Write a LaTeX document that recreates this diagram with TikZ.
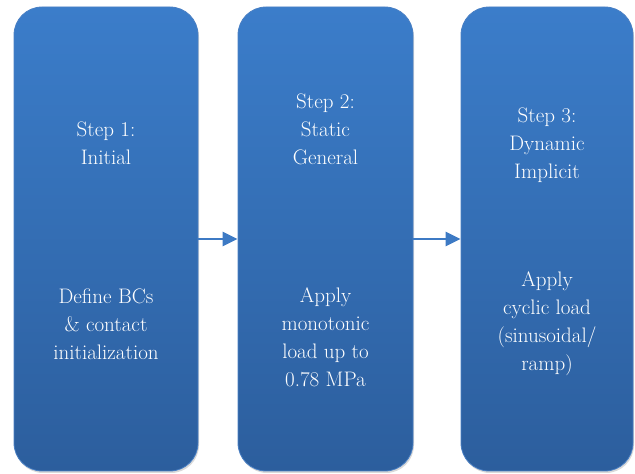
\documentclass[tikz,border=0pt]{standalone}
\usetikzlibrary{arrows.meta, shadows}

\definecolor{boxtop}{RGB}{59,125,202}
\definecolor{boxbottom}{RGB}{44,94,157}
\definecolor{boxedge}{RGB}{74,128,196}
\definecolor{arrowblue}{RGB}{61,122,196}

\begin{document}
\begin{tikzpicture}[
	x=1pt, y=1pt,
	stepbox/.style={
		shape=rectangle,
		rounded corners=28pt,
		top color=boxtop,
		bottom color=boxbottom,
		draw=boxedge,
		line width=0.8pt,
		minimum height=464pt,
		drop shadow={shadow xshift=1pt, shadow yshift=-2pt, opacity=0.3}},
	steptext/.style={
		text=white,
		align=center,
		font=\rmfamily\fontsize{21}{28}\selectfont},
	steparrow/.style={
		draw=arrowblue,
		line width=2.5pt,
		-{Triangle[length=15pt,width=14pt]}}
	]
	\useasboundingbox (0,0) rectangle (635,474);
	
	% boxes
	\node[stepbox, minimum width=184pt] (step1) at (106,235) {};
	\node[stepbox, minimum width=175pt] (step2) at (325.5,235) {};
	\node[stepbox, minimum width=172pt] (step3) at (547,235) {};
	
	% step titles
	\node[steptext] (title1) at (106,330.5) {Step 1:\\Initial};
	\node[steptext] (title2) at (325.5,344.5) {Step 2:\\Static\\General};
	\node[steptext] (title3) at (547,329) {Step 3:\\Dynamic\\Implicit};
	
	% step actions
	\node[steptext] (task1) at (106,150) {Define BCs\\\& contact\\initialization};
	\node[steptext] (task2) at (325.5,136.5) {Apply\\monotonic\\load up to\\0.78 MPa};
	\node[steptext] (task3) at (547,150.5) {Apply\\cyclic load\\(sinusoidal/\\ramp)};
	
	% arrows
	\draw[steparrow] (step1.east) -- (step2.west);
	\draw[steparrow] (step2.east) -- (step3.west);
\end{tikzpicture}
\end{document}
